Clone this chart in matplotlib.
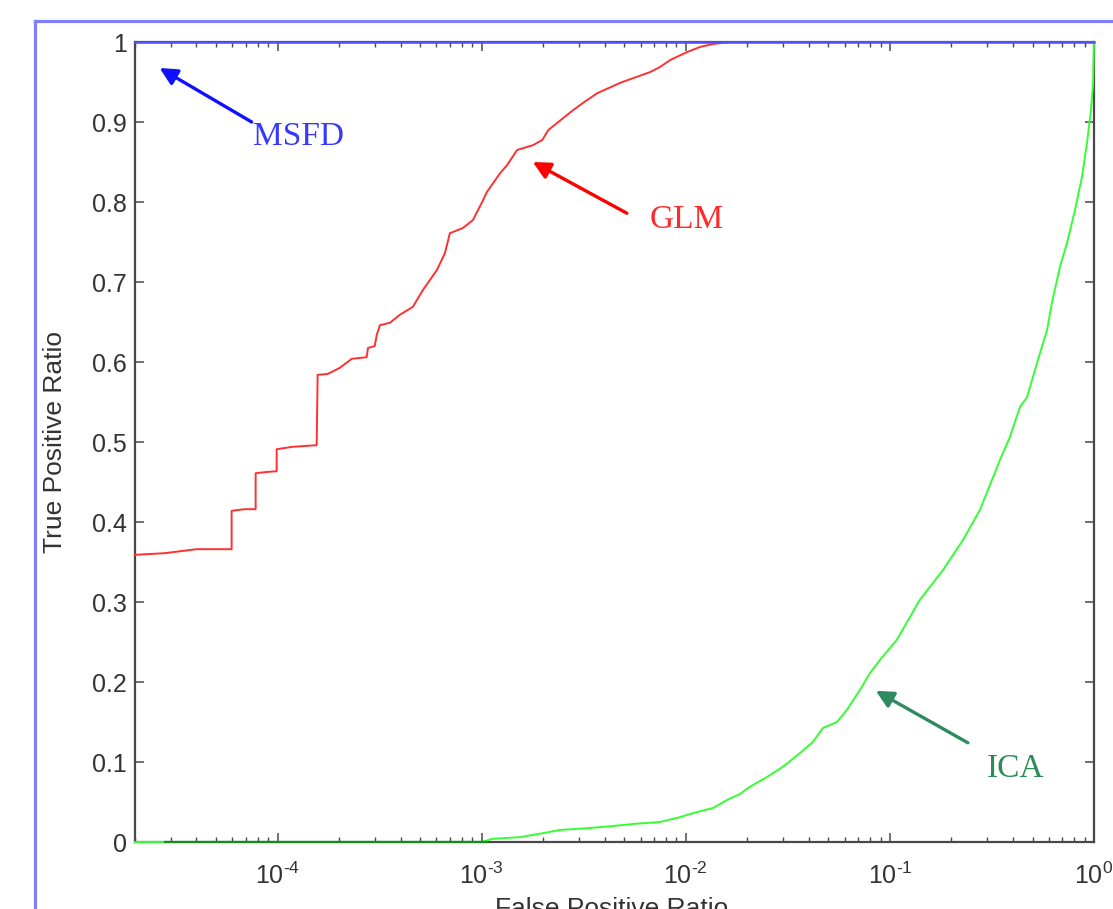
import numpy as np
import matplotlib
matplotlib.use("Agg")
import matplotlib.pyplot as plt
from matplotlib.lines import Line2D
from matplotlib.ticker import FixedLocator, FuncFormatter, LogLocator, NullFormatter

plt.rcParams['font.family'] = ['Liberation Sans', 'DejaVu Sans']
plt.rcParams['mathtext.fontset'] = 'custom'
plt.rcParams['mathtext.rm'] = 'Liberation Sans'
plt.rcParams['mathtext.default'] = 'regular'
plt.rcParams['axes.unicode_minus'] = False

# ---------------- data ----------------
glm_fpr = [2.0e-5, 2.79e-5, 4.0e-5, 5.95e-5, 5.95e-5, 6.89e-5, 7.80e-5, 7.80e-5, 8.83e-5,
           9.89e-5, 9.89e-5, 1.185e-4, 1.553e-4, 1.57e-4, 1.758e-4, 2.01e-4, 2.31e-4,
           2.73e-4, 2.77e-4, 2.99e-4, 3.06e-4, 3.17e-4, 3.55e-4, 3.97e-4, 4.60e-4,
           5.15e-4, 6.03e-4, 6.60e-4, 6.98e-4, 8.09e-4, 9.06e-4, 1.0e-3, 1.06e-3,
           1.23e-3, 1.33e-3, 1.49e-3, 1.78e-3, 1.98e-3, 2.12e-3, 2.51e-3, 2.81e-3,
           3.14e-3, 3.68e-3, 4.77e-3, 6.70e-3, 7.50e-3, 8.39e-3, 1.016e-2, 1.18e-2,
           1.36e-2, 1.65e-2, 1.0]
glm_tpr = [0.359, 0.361, 0.366, 0.366, 0.414, 0.416, 0.416, 0.461, 0.4625,
           0.4635, 0.491, 0.494, 0.496, 0.584, 0.585, 0.5925, 0.604,
           0.606, 0.6175, 0.62, 0.634, 0.646, 0.649, 0.659, 0.669,
           0.69, 0.715, 0.736, 0.761, 0.7675, 0.7775, 0.799, 0.8125,
           0.836, 0.846, 0.865, 0.871, 0.8775, 0.89, 0.905, 0.915,
           0.924, 0.936, 0.949, 0.9625, 0.969, 0.9775, 0.9875, 0.994,
           0.9975, 1.0, 1.0]

ica_fpr = [2.0e-5, 1.0e-3, 1.13e-3, 1.53e-3, 1.99e-3, 2.41e-3, 3.38e-3, 4.38e-3, 5.49e-3,
           7.46e-3, 9.35e-3, 1.08e-2, 1.36e-2, 1.59e-2, 1.84e-2, 2.06e-2, 2.49e-2,
           2.99e-2, 3.62e-2, 4.19e-2, 4.70e-2, 5.50e-2, 6.15e-2, 7.13e-2, 7.98e-2,
           8.93e-2, 0.108, 0.140, 0.182, 0.228, 0.276, 0.346, 0.387, 0.434, 0.470,
           0.526, 0.589, 0.622, 0.681, 0.738, 0.807, 0.873, 0.924, 0.966, 0.989, 1.0]
ica_tpr = [0.0, 0.0, 0.004, 0.006, 0.011, 0.015, 0.0175, 0.02, 0.0225,
           0.025, 0.031, 0.036, 0.0425, 0.0525, 0.06, 0.069, 0.081,
           0.094, 0.111, 0.125, 0.1425, 0.15, 0.165, 0.19, 0.211,
           0.2275, 0.2525, 0.3025, 0.34, 0.3775, 0.415, 0.4775, 0.506, 0.544, 0.556,
           0.599, 0.64, 0.674, 0.719, 0.749, 0.79, 0.831, 0.874, 0.915, 0.946, 1.0]

msfd_fpr = [2.0e-5, 1.0]
msfd_tpr = [1.0, 1.0]

ica_floor_fpr = [2.8e-5, 1.05e-3]
ica_floor_tpr = [0.0, 0.0]

y_ticks = [0, 0.1, 0.2, 0.3, 0.4, 0.5, 0.6, 0.7, 0.8, 0.9, 1]
x_ticks = [1e-4, 1e-3, 1e-2, 1e-1, 1e0]
x_label = "False Positive Ratio"
y_label = "True Positive Ratio"

# ---------------- figure ----------------
W, H = 1113, 909
fig = plt.figure(figsize=(W / 100, H / 100), dpi=100)
fig.patch.set_facecolor('white')

# blue outer frame
frame_col = '#8080ff'
fig.add_artist(Line2D([35 / W, 1.0], [1 - 21 / H, 1 - 21 / H], transform=fig.transFigure,
                      color=frame_col, lw=2.3))
fig.add_artist(Line2D([35 / W, 35 / W], [0.0, 1 - 21 / H], transform=fig.transFigure,
                      color=frame_col, lw=2.3))

ax = fig.add_axes([135 / W, (H - 842) / H, 959 / W, 800 / H])
ax.set_xscale('log')
ax.set_xlim(2.0e-5, 1.0)
ax.set_ylim(0, 1)

ax.plot(glm_fpr, glm_tpr, color='#ff3030', lw=1.4, clip_on=False, zorder=3)
ax.plot(ica_fpr, ica_tpr, color='#33ff33', lw=1.4, clip_on=False, zorder=3)
ax.plot(ica_floor_fpr, ica_floor_tpr, color='#1a8a1a', lw=1.6, clip_on=False, zorder=4)
ax.plot(msfd_fpr, msfd_tpr, color='#5050ff', lw=1.8, clip_on=False, zorder=5)

spine_col = '#484848'
for s in ax.spines.values():
    s.set_color(spine_col)
    s.set_linewidth(1.6)


def xfmt(v, p):
    e = int(round(np.log10(v)))
    if e < 0:
        return r'$\mathregular{10^{\text{-}%d}}$' % (-e)
    return r'$\mathregular{10^{%d}}$' % e


ax.yaxis.set_major_locator(FixedLocator(y_ticks))
ax.yaxis.set_major_formatter(FuncFormatter(lambda v, p: '%g' % v))
ax.xaxis.set_major_locator(FixedLocator(x_ticks))
ax.xaxis.set_major_formatter(FuncFormatter(xfmt))
ax.xaxis.set_minor_locator(LogLocator(base=10, subs=np.arange(2, 10), numticks=20))
ax.xaxis.set_minor_formatter(NullFormatter())

ax.tick_params(axis='both', which='major', direction='in', length=6.5, width=1.1,
               color=spine_col, labelcolor='#333333', labelsize=18, top=True, right=True)
ax.tick_params(axis='x', which='minor', direction='in', length=3.5, width=1.0,
               color=spine_col, top=True, bottom=True)
ax.tick_params(axis='y', which='major', pad=6)
ax.tick_params(axis='x', which='major', pad=15)

ax.set_ylabel(y_label, fontsize=19, color='#333333')
ax.yaxis.set_label_coords(-0.0705, 0.5)
ax.set_xlabel(x_label, fontsize=19, color='#333333', va='top')
ax.xaxis.set_label_coords(0.497, -0.069)

serif = ['Liberation Serif', 'DejaVu Serif']
def ann(text, head, tail, textpos, col_txt, col_arrow):
    ax.annotate('', xy=head, xytext=tail, xycoords='data', textcoords='data',
                arrowprops=dict(arrowstyle='-|>', color=col_arrow, lw=2.4,
                                mutation_scale=26, shrinkA=0, shrinkB=0))
    ax.text(textpos[0], textpos[1], text, color=col_txt, fontsize=24, family=serif,
            ha='left', va='baseline')

ann('MSFD', (2.64e-5, 0.9675), (7.46e-5, 0.90), (7.6e-5, 0.871), '#3838ff', '#1010ff')
ann('GLM', (1.778e-3, 0.85), (5.14e-3, 0.786), (6.67e-3, 0.7675), '#ff2a2a', '#ff0000')
ann('ICA', (8.53e-2, 0.189), (0.241, 0.124), (0.2985, 0.081), '#2e8b57', '#2e8b60')

fig.savefig('out.png', dpi=100)
